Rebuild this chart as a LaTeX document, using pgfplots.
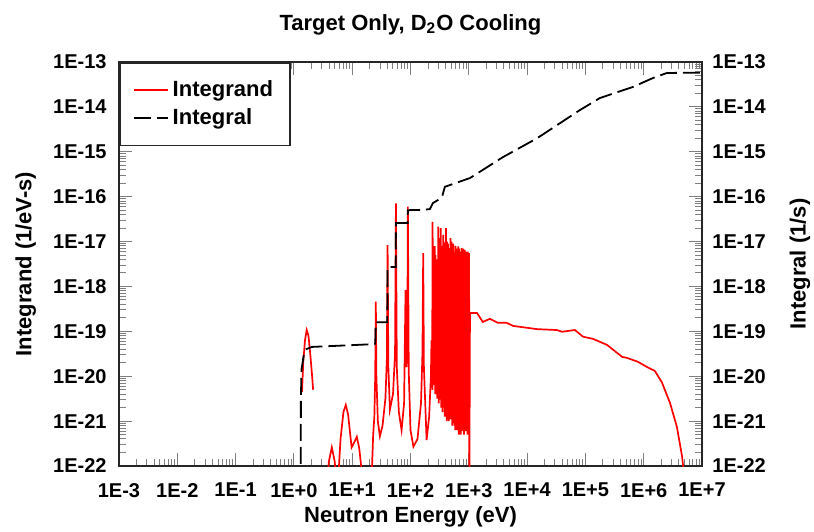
\documentclass[border=0pt]{standalone}
\usepackage{fontspec}
\setmainfont{Liberation Sans}
\usepackage{pgfplots}
\pgfplotsset{compat=1.18}
\usetikzlibrary{calc}

% integrand (1/eV-s) vs neutron energy (eV); nan rows break the line
\pgfplotstableread{
E y
1.380 4.5e-21
1.445 2.0e-20
1.549 6.3e-20
1.660 1.07e-19
1.778 8.0e-20
1.905 3.2e-20
2.042 1.1e-20
2.138 5.0e-21
nan nan
3.63 3e-23
3.98 1.26e-22
4.47 2.6e-22
5.01 1.26e-22
5.50 3e-23
5.75 5e-23
6.31 4e-22
7.08 1.6e-21
7.76 2.3e-21
8.51 1.4e-21
9.77 2.6e-22
11.0 3.5e-22
12.0 4.5e-22
13.2 2.5e-22
15.1 5e-23
nan nan
21.5 5e-23
22.9 5e-22
23.99 1.26e-21
24.83 1e-20
25.41 4.57e-19
26.0 1e-20
27.54 1e-21
29.85 4.6e-22
33.11 7.9e-22
37.15 3.2e-21
39.36 2.5e-20
40.46 8.3e-18
41.69 1.6e-20
44.36 1.8e-21
50.12 4e-21
54.33 3.2e-20
56.23 7.08e-17
58.21 1.6e-20
63.10 1.6e-21
70.31 6.3e-22
77.62 2.5e-21
82.22 8.3e-19
85.11 1.6e-20
88.10 3.2e-20
90.16 6.0e-17
93.33 1.26e-20
100.0 6.3e-22
112.2 2.7e-22
131.8 4e-22
151.4 2.5e-21
160.3 3.2e-20
165.2 5.5e-18
169.8 1.6e-20
188.8 3.8e-22
208.9 1.26e-21
223.9 1e-20
229.1 6.3e-20
233.3 7.9e-21
236.0 3e-19
237.5 5e-21
239.3 2.75e-17
244.3 1.26e-20
250.0 1e-18
254.7 6.3e-21
257.5 2e-18
258.8 8e-21
260.6 7.9e-18
265.5 4e-21
268.5 5e-18
270.0 5e-21
271.6 1.58e-19
276.1 5e-21
281.8 4e-18
287.1 3.16e-21
290.0 8e-19
291.5 4e-21
293.1 1e-19
296.5 6.3e-21
299.2 2.14e-17
304.8 2.5e-21
308.0 1.2e-17
310.0 3e-21
311.9 6.3e-19
317.7 4e-21
322.0 5e-18
325.0 3e-21
328.0 1e-18
329.5 3e-21
331.1 2e-17
337.3 2e-21
341.0 8e-18
344.0 2e-21
346.7 3.16e-19
353.2 1.58e-21
357.0 3e-18
360.0 2e-21
363.1 1.41e-17
369.8 2.5e-21
374.0 1e-17
377.5 2e-21
380.2 6.3e-20
386.4 1.26e-21
390.5 6e-18
393.0 1.5e-21
395.4 3.16e-18
402.7 1.26e-21
407.0 2e-17
409.5 1.3e-21
412.1 9.1e-18
418.8 1e-21
423.0 1e-17
425.5 1.2e-21
428.5 5e-19
436.5 1.58e-21
441.0 9e-18
443.5 1.1e-21
446.7 1.58e-18
455.0 1e-21
460.0 5e-18
462.5 1.2e-21
465.6 1e-19
469.9 2.5e-21
473.2 7.1e-18
481.9 1.26e-21
487.0 1.2e-17
489.5 1.1e-21
492.0 2.5e-19
498.9 2e-21
507.0 1e-17
517.6 7.9e-22
522.0 8e-18
524.5 9e-22
527.2 1e-18
537.0 1.26e-21
543.0 9e-18
546.0 9e-22
549.5 3.16e-18
559.8 7.9e-22
567.0 2e-18
571.0 8e-22
575.4 6.0e-18
586.1 6.3e-22
592.0 8e-18
596.0 8e-22
599.8 3.16e-19
610.9 1e-21
617.0 7e-18
620.0 8e-22
623.7 2.5e-18
635.3 6.3e-22
641.0 4e-18
645.0 7e-22
648.6 1.26e-19
654.6 1.58e-21
660.7 7.8e-18
673.0 5e-22
680.0 7e-18
684.0 6e-22
688.7 1.58e-18
701.5 7.9e-22
709.0 6e-18
713.0 7e-22
717.8 2.5e-19
727.8 5e-22
738.0 8e-19
745.0 6e-22
751.6 7.1e-18
765.6 6.3e-22
773.0 5e-18
777.0 6e-22
781.6 7.9e-19
794.3 1e-21
802.0 7e-18
807.0 6e-22
812.8 2.5e-18
827.9 5e-22
840.0 3e-18
850.0 6e-22
857.0 6.5e-18
871.0 6.3e-22
880.0 6e-18
885.0 6e-22
891.3 4e-19
903.6 7.9e-22
915.0 5e-18
925.0 6e-22
933.3 6.0e-18
950.6 5e-22
960.0 6e-18
966.0 6e-22
972.7 1.26e-18
988.6 1e-21
1011.6 5.5e-18
1023 3.2e-23
1047 2.57e-19
1380 2.57e-19
1738 1.62e-19
2291 1.9e-19
3162 1.55e-19
4467 1.55e-19
5754 1.32e-19
1.0e4 1.2e-19
1.479e4 1.12e-19
3.236e4 1.07e-19
3.981e4 9.8e-20
6.607e4 1.07e-19
9.12e4 7.6e-20
1.349e5 6.8e-20
2.344e5 5.0e-20
4.266e5 2.7e-20
5.129e5 2.57e-20
7.943e5 2.1e-20
1.122e6 1.62e-20
1.549e6 1.32e-20
2.042e6 7.4e-21
2.818e6 2.57e-21
3.715e6 7.4e-22
4.571e6 1.58e-22
5.012e6 5e-23
}\integrand

% integral (1/s)
\pgfplotstableread{
E y
1.300 1e-24
1.318 3e-21
1.350 1.4e-20
1.479 3.0e-20
1.622 4.0e-20
2.042 4.5e-20
24.5 5.2e-20
24.9 5.5e-20
25.4 1.6e-19
40.0 1.6e-19
40.5 2.7e-18
55.8 2.7e-18
56.2 2.6e-17
89.5 2.6e-17
90.2 5.0e-17
165 5.1e-17
215 5.3e-17
242 7.2e-17
300 8.5e-17
347 9.8e-17
389 1.66e-16
1047 2.6e-16
3846 7.6e-16
1.48e4 2.0e-15
8.05e4 8.5e-15
1.78e5 1.58e-14
6.5e5 2.78e-14
1.44e6 4.4e-14
2.5e6 5.7e-14
1e7 5.8e-14
}\integral

\begin{document}
\begin{tikzpicture}
\begin{axis}[
  name=main,
  scale only axis, width=291.5pt, height=202pt,
  xmode=log, ymode=log,
  xmin=1e-3, xmax=1e7, ymin=1e-22, ymax=1e-13,
  xtick={1e-3,1e-2,1e-1,1,1e1,1e2,1e3,1e4,1e5,1e6,1e7},
  xticklabels={1E-3,1E-2,1E-1,1E+0,1E+1,1E+2,1E+3,1E+4,1E+5,1E+6,1E+7},
  ytick={1e-22,1e-21,1e-20,1e-19,1e-18,1e-17,1e-16,1e-15,1e-14,1e-13},
  yticklabels={1E-22,1E-21,1E-20,1E-19,1E-18,1E-17,1E-16,1E-15,1E-14,1E-13},
  yticklabel pos=left,
  tick align=inside,
  major tick length=6.5pt, minor tick length=3.5pt,
  tick style={gray, line width=0.5pt},
  axis line style={line width=0.8pt, black!85},
  ticklabel style={font=\fontsize{10}{12}\selectfont\bfseries},
  xticklabel shift=5pt,
  yticklabel shift=2.7pt,
  unbounded coords=jump,
  title={Target Only, D\textsubscript{2}O Cooling},
  title style={at={(axis description cs:0.5,1.062)}, anchor=center,
    font=\fontsize{11}{13}\selectfont\bfseries},
  xlabel={Neutron Energy (eV)},
  xlabel style={at={(axis description cs:0.5,-0.126)}, anchor=center,
    font=\fontsize{11}{13}\selectfont\bfseries},
  ylabel={Integrand (1/eV-s)},
  ylabel style={at={(axis description cs:-0.16,0.5)}, anchor=center,
    font=\fontsize{11}{13}\selectfont\bfseries},
  legend style={at={(0,1)}, anchor=north west, draw=black!85, line width=0.8pt,
    font=\fontsize{11}{13}\selectfont\bfseries, inner xsep=6.5pt, inner ysep=7pt,
    row sep=0.5pt},
  legend cell align=left,
]
\addplot[red, line width=0.85pt] table[x=E, y=y] {\integrand};
\addlegendentry{Integrand}
\addplot[black, line width=0.9pt, dash pattern=on 8.5pt off 3pt] table[x=E, y=y] {\integral};
\addlegendentry{Integral}
\end{axis}
\begin{axis}[
  scale only axis, width=291.5pt, height=202pt,
  xmode=log, ymode=log,
  xmin=1e-3, xmax=1e7, ymin=1e-22, ymax=1e-13,
  ytick={1e-22,1e-21,1e-20,1e-19,1e-18,1e-17,1e-16,1e-15,1e-14,1e-13},
  yticklabels={1E-22,1E-21,1E-20,1E-19,1E-18,1E-17,1E-16,1E-15,1E-14,1E-13},
  axis x line=none,
  axis y line*=right,
  axis line style={draw=none},
  major tick length=0pt, minor tick length=0pt,
  ticklabel style={font=\fontsize{10}{12}\selectfont\bfseries},
  yticklabel shift=1.7pt,
  ylabel={Integral (1/s)},
  ylabel style={at={(axis description cs:1.168,0.5)}, anchor=center,
    font=\fontsize{11}{13}\selectfont\bfseries},
]
\end{axis}
\pgfresetboundingbox
\path[use as bounding box] ($(main.south west)+(-59.5pt,-32.5pt)$) rectangle ($(main.north east)+(56pt,31pt)$);
\end{tikzpicture}
\end{document}
